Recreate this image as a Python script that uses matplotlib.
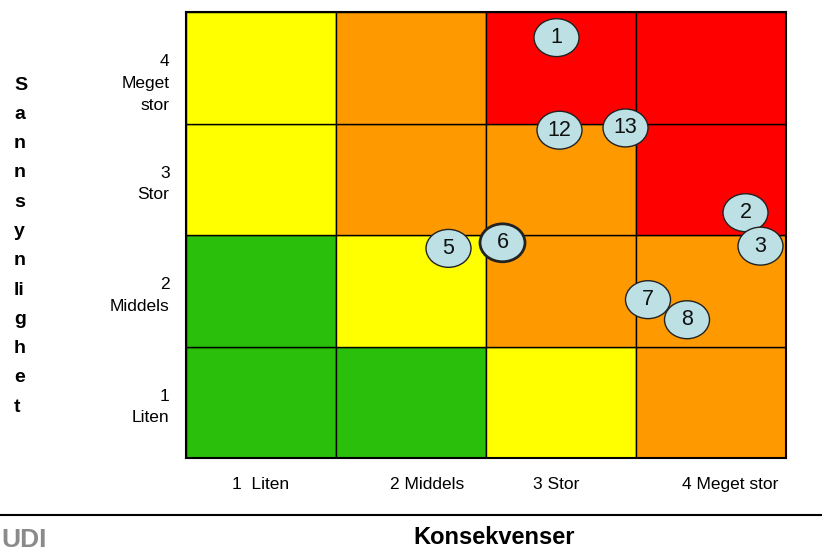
import matplotlib.pyplot as plt
from matplotlib.patches import Rectangle, Ellipse

plt.rcParams['font.family'] = ['Liberation Sans', 'DejaVu Sans']

# risk matrix colours, rows from bottom (1 Liten) to top (4 Meget stor)
grid_colors = [
    ['#29BF0B', '#29BF0B', '#FFFF00', '#FF9900'],
    ['#29BF0B', '#FFFF00', '#FF9900', '#FF9900'],
    ['#FFFF00', '#FF9900', '#FF9900', '#FF0000'],
    ['#FFFF00', '#FF9900', '#FF0000', '#FF0000'],
]
x_labels = ['1  Liten', '2 Middels', '3 Stor', '4 Meget stor']
y_labels = ['1\nLiten', '2\nMiddels', '3\nStor', '4\nMeget\nstor']

# risks: id, consequence (x), probability (y)
risk_ids = ['1', '12', '13', '2', '3', '5', '6', '7', '8']
risk_x = [2.47, 2.49, 2.93, 3.73, 3.83, 1.75, 2.11, 3.08, 3.34]
risk_y = [3.77, 2.94, 2.96, 2.20, 1.90, 1.88, 1.93, 1.42, 1.24]

fig = plt.figure(figsize=(8.22, 5.53), dpi=100)
ax = fig.add_axes([186/822, 95/553, 600/822, 446/553])

for r in range(4):
    for c in range(4):
        ax.add_patch(Rectangle((c, r), 1, 1, facecolor=grid_colors[r][c],
                               edgecolor='black', linewidth=1))

for i, name in enumerate(risk_ids):
    lw = 2 if name == '6' else 1
    ax.add_patch(Ellipse((risk_x[i], risk_y[i]), 0.30, 0.34, facecolor='#BCE0E4',
                         edgecolor='#222222', linewidth=lw, zorder=3))
    ax.text(risk_x[i], risk_y[i], name, ha='center', va='center', fontsize=15.5,
            color='#111111', zorder=4)

ax.set_xlim(0, 4)
ax.set_ylim(0, 4)
ax.set_xticks([])
ax.set_yticks([])
for s in ax.spines.values():
    s.set_linewidth(1.5)

# x category labels (slightly off-centre as in the original)
x_pos = [0.5, 1.61, 2.47, 3.63]
for xp, lab in zip(x_pos, x_labels):
    ax.text(xp, -0.235, lab, ha='center', va='center', fontsize=12.5)

for i, lab in enumerate(y_labels):
    ax.text(-0.11, i + 0.5 + 0.12, lab, ha='right', va='top', fontsize=12.5,
            linespacing=1.55)

# stacked axis title
letters = ['S', 'a', 'n', 'n', 's', 'y', 'n', 'li', 'g', 'h', 'e', 't']
for i, ch in enumerate(letters):
    fig.text(14/822, 1 - (85 + i*29.3)/553, ch, ha='left', va='center',
             fontsize=14, fontweight='bold')

fig.text(494/822, 1 - 538/553, 'Konsekvenser', ha='center', va='center',
         fontsize=17, fontweight='bold')

fig.add_artist(plt.Line2D([0, 1], [1 - 515/553, 1 - 515/553], color='black',
                          linewidth=1.5))
fig.text(1/822, 1/553, 'UDI', ha='left', va='bottom', fontsize=19,
         fontweight='bold', color='#8a8a8a', fontstretch='condensed')

fig.savefig('out.png', dpi=100)
